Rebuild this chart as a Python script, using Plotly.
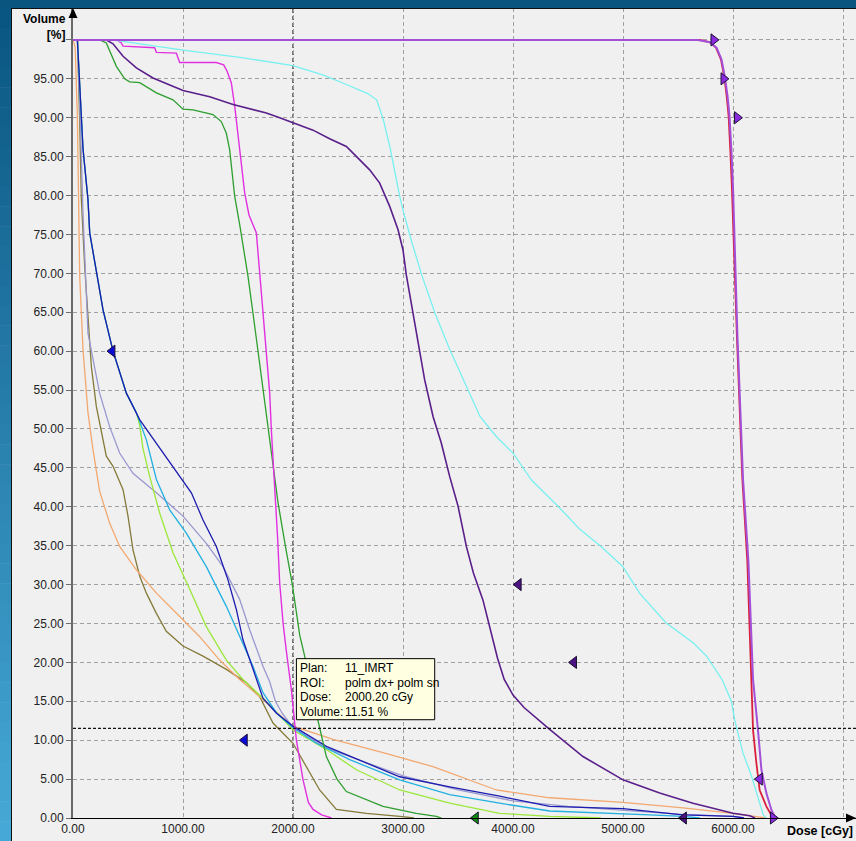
import plotly.graph_objects as go

# ---------------- data (dose in cGy, volume in %) ----------------
ptv_red_dose = [0, 5700, 5790, 5845, 5890, 5920, 5942, 5960, 5975, 5990, 6035, 6085, 6130, 6167, 6182, 6212, 6242, 6303, 6364]
ptv_red_vol = [100, 100, 99.7, 99.0, 97.5, 95.3, 92.8, 90.2, 85.9, 81.0, 62.0, 43.5, 33.0, 17.8, 11.3, 7.1, 3.6, 1.5, 0]

ptv_vio_dose = [0, 5680, 5790, 5850, 5895, 5925, 5950, 5968, 5985, 6000, 6040, 6091, 6140, 6182, 6227, 6258, 6303, 6350, 6385]
ptv_vio_vol = [100, 100, 99.7, 99.0, 97.5, 95.3, 92.8, 90.2, 85.9, 81.0, 62.0, 43.5, 33.0, 17.8, 11.3, 6.2, 3.2, 1.0, 0]

aqua_dose = [0, 360, 1000, 1500, 2000, 2270, 2480, 2680, 2760, 2820, 2880, 2925, 2970, 3015, 3080, 3170, 3290, 3425, 3590, 3700, 3850,
             4000, 4170, 4400, 4600, 4800, 5000, 5150, 5390, 5640, 5760, 5900, 5985, 6015, 6045, 6090, 6170, 6230, 6275, 6300]
aqua_vol = [100, 100, 98.7, 97.8, 96.7, 95.5, 94.3, 93.1, 92.3, 89.8, 86.3, 82.9, 79.9, 77.3, 74.0, 69.8, 64.9, 60.2, 55.1, 51.6, 49.0,
            46.9, 43.4, 40.2, 37.2, 34.9, 32.3, 28.9, 25.1, 22.5, 20.8, 17.8, 15.0, 12.6, 10.9, 8.4, 5.3, 2.4, 0.4, 0]

dpurple_dose = [0, 300, 364, 455, 576, 727, 1000, 1243, 1455, 1758, 1879, 2000, 2182, 2333, 2485, 2591, 2697, 2788, 2879, 2955, 3000,
                3030, 3091, 3152, 3197, 3273, 3348, 3424, 3500, 3576, 3640, 3727, 3800, 3860, 3920, 4000, 4100, 4200, 4333, 4636,
                5000, 5333, 5636, 6000, 6152, 6200]
dpurple_vol = [100, 100, 99.5, 97.9, 96.4, 95.1, 93.5, 92.7, 91.7, 90.6, 90.0, 89.4, 88.4, 87.3, 86.3, 84.8, 83.3, 81.6, 78.6, 75.6, 73.0,
               69.8, 64.9, 60.2, 56.3, 51.6, 48.2, 43.9, 40.1, 34.9, 31.5, 28.0, 24.0, 20.5, 17.8, 15.8, 14.2, 13.0, 11.4, 7.9,
               4.9, 3.2, 1.9, 0.6, 0.3, 0]

magenta_dose = [0, 400, 439, 455, 742, 758, 939, 970, 1303, 1370, 1400, 1439, 1470, 1515, 1561, 1600, 1667, 1697, 1727, 1758, 1788,
                1803, 1824, 1843, 1860, 1879, 1910, 1939, 1985, 2030, 2091, 2140, 2182, 2260, 2333, 2350]
magenta_vol = [100, 100, 99.6, 99.2, 99.0, 98.4, 98.3, 97.1, 97.1, 96.8, 96.0, 94.5, 91.5, 85.9, 80.3, 77.5, 75.2, 70.1, 65.3, 59.8, 54.6,
               49.9, 45.2, 40.9, 36.0, 30.2, 25.0, 21.5, 16.5, 10.1, 4.9, 2.0, 1.1, 0.4, 0.1, 0]

green_dose = [0, 243, 303, 394, 470, 515, 606, 758, 909, 1000, 1091, 1273, 1348, 1394, 1424, 1470, 1515, 1591, 1636, 1682, 1727, 1773,
              1818, 1864, 1930, 1994, 2061, 2106, 2170, 2227, 2303, 2400, 2485, 2818, 3121, 3303, 3350]
green_vol = [100, 100, 99.6, 96.6, 95.0, 94.6, 94.5, 93.2, 92.3, 91.1, 91.0, 90.4, 89.5, 88.0, 85.9, 79.9, 76.3, 69.6, 64.9, 60.0, 55.1, 49.9,
             45.2, 40.5, 35.0, 30.0, 23.5, 20.8, 16.0, 12.6, 7.9, 5.0, 3.4, 1.5, 0.6, 0.2, 0]

blue_dose = [0, 40, 91, 136, 152, 212, 273, 364, 485, 606, 758, 1000, 1076, 1182, 1303, 1409, 1485, 1545, 1636, 1727, 1848, 2000,
             2303, 2667, 2970, 3424, 3879, 4333, 5000, 5545, 6000, 6100]
blue_vol = [100, 100, 86.0, 79.5, 75.2, 70.1, 65.3, 60.0, 54.6, 51.2, 48.2, 43.3, 41.8, 38.3, 34.9, 30.6, 26.8, 22.9, 19.1, 15.4, 13.5, 11.8,
            9.2, 7.1, 5.3, 4.0, 2.8, 1.5, 1.2, 0.4, 0.2, 0]

skyblue_dose = [0, 40, 91, 136, 152, 212, 273, 364, 485, 576, 667, 758, 879, 1030, 1212, 1394, 1515, 1636, 1727, 1850, 2000, 2212,
                2515, 2970, 3424, 3879, 4333, 5000, 5242, 5545, 5700]
skyblue_vol = [100, 100, 86.0, 79.5, 75.2, 70.1, 65.3, 60.0, 54.6, 52.1, 48.6, 43.5, 39.6, 36.6, 32.3, 27.2, 23.3, 19.5, 16.1, 13.5, 11.6, 9.6,
               7.5, 4.9, 3.0, 1.9, 0.9, 0.6, 0.4, 0.2, 0]

lgreen_dose = [0, 40, 91, 136, 152, 212, 273, 364, 485, 576, 606, 636, 667, 697, 788, 909, 1061, 1212, 1394, 1545, 1727, 2000, 2303,
               2576, 2970, 3424, 3879, 4333, 4800]
lgreen_vol = [100, 100, 86.0, 79.5, 75.2, 70.1, 65.3, 60.0, 54.6, 52.1, 50.5, 47.5, 45.5, 43.9, 39.2, 34.1, 29.4, 24.6, 20.3, 17.8, 15.4, 11.3, 8.8,
              6.2, 3.6, 1.9, 0.6, 0.2, 0]

lavender_dose = [0, 40, 70, 90, 136, 182, 242, 333, 424, 545, 758, 1000, 1212, 1364, 1515, 1606, 1727, 1788, 1840, 1900, 2000, 2300,
                 2700, 3000, 3500, 4000, 4500, 5000, 5500, 6000, 6100]
lavender_vol = [100, 100, 88.0, 78.0, 62.3, 58.9, 54.6, 50.3, 46.9, 44.3, 41.8, 38.8, 35.3, 32.3, 28.1, 24.2, 19.5, 17.5, 15.0, 13.5, 11.6, 9.0,
                7.0, 5.4, 3.6, 2.2, 1.5, 1.0, 0.5, 0.2, 0]

orange_dose = [0, 20, 40, 48, 61, 91, 136, 182, 242, 333, 424, 576, 758, 970, 1152, 1333, 1515, 1697, 1850, 2000, 2364, 2818, 3273,
               3849, 4333, 5000, 5545, 6000, 6212, 6300]
orange_vol = [100, 99, 90, 80, 69.6, 60.2, 52.1, 47.3, 42.0, 37.9, 34.9, 31.9, 28.9, 25.9, 23.3, 20.3, 17.8, 15.6, 13.6, 11.8, 10.1, 8.4, 6.6,
              3.6, 2.6, 2.0, 1.3, 0.6, 0.2, 0]

olive_dose = [0, 40, 60, 76, 106, 136, 167, 212, 258, 303, 364, 455, 500, 545, 606, 667, 758, 848, 1000, 1182, 1394, 1576, 1697, 1818,
              2000, 2121, 2242, 2394, 2667, 2970, 3100]
olive_vol = [100, 100, 90, 79.5, 70.9, 64.5, 58.0, 52.9, 49.5, 46.5, 45.2, 42.2, 38.8, 34.5, 31.1, 28.9, 26.3, 24.0, 22.1, 20.8, 19.1, 17.4,
             15.6, 12.2, 9.6, 6.6, 3.6, 1.1, 0.6, 0.2, 0]

# constraint markers
blue_mk_dose = [357, 1560]
blue_mk_vol = [60, 10]
dpurple_mk_dose = [4050, 4553, 5552]
dpurple_mk_vol = [30, 20, 0]
green_mk_dose = [3660]
green_mk_vol = [0]
vio_right_dose = [5824, 5915, 6038, 6364]
vio_right_vol = [100, 95, 90, 0]
vio_left_dose = [6242]
vio_left_vol = [5]

# cursor readout
cursor_plan = "11_IMRT"
cursor_roi = "polm dx+ polm sn"
cursor_dose = 2000.20
cursor_vol = 11.51

x_ticks = [0, 1000, 2000, 3000, 4000, 5000, 6000, 7000]
x_ticktext = ["0.00", "1000.00", "2000.00", "3000.00", "4000.00", "5000.00", "6000.00", ""]
y_ticks = list(range(0, 101, 5))
y_ticktext = ["%.2f" % v for v in y_ticks[:-1]] + [""]

# ---------------- figure ----------------
W, H = 856, 841
ML, MR, MT, MB = 73, 0, 8, 23
XMAX = 7118
YMAX = 104.1
PW, PH = W - ML - MR, H - MT - MB


def pxx(p):
    return (p - ML) / PW


def pxy(p):
    return (H - MB - p) / PH


fig = go.Figure()

series = [
    (olive_dose, olive_vol, "#857a3a", 1.3),
    (orange_dose, orange_vol, "#f2a870", 1.3),
    (lavender_dose, lavender_vol, "#9a98d0", 1.3),
    (lgreen_dose, lgreen_vol, "#9be83a", 1.3),
    (skyblue_dose, skyblue_vol, "#22b0e0", 1.3),
    (blue_dose, blue_vol, "#1c1cb0", 1.3),
    (green_dose, green_vol, "#2e9e2e", 1.3),
    (magenta_dose, magenta_vol, "#e030e0", 1.4),
    (dpurple_dose, dpurple_vol, "#5a1f8a", 1.6),
    (aqua_dose, aqua_vol, "#78f0f0", 1.3),
    (ptv_red_dose, ptv_red_vol, "#d8203c", 1.8),
    (ptv_vio_dose, ptv_vio_vol, "#a44fd8", 2.0),
]
for xs, ys, col, lw in series:
    fig.add_trace(go.Scatter(x=xs, y=ys, mode="lines", line=dict(color=col, width=lw),
                             hoverinfo="skip", showlegend=False))

markers = [
    (blue_mk_dose, blue_mk_vol, "triangle-left", "#0a0ad8"),
    (dpurple_mk_dose, dpurple_mk_vol, "triangle-left", "#4b1282"),
    (green_mk_dose, green_mk_vol, "triangle-left", "#0e8a0e"),
    (vio_right_dose, vio_right_vol, "triangle-right", "#8a2be2"),
    (vio_left_dose, vio_left_vol, "triangle-left", "#8a2be2"),
]
for xs, ys, sym, col in markers:
    fig.add_trace(go.Scatter(x=xs, y=ys, mode="markers", cliponaxis=False,
                             marker=dict(symbol=sym, size=10.5, color=col,
                                         line=dict(color="#1a1030", width=1)),
                             hoverinfo="skip", showlegend=False))

shapes = []
# blue frame: top strip and left gradient strip
shapes.append(dict(type="rect", xref="paper", yref="paper", x0=pxx(0), x1=pxx(W), y0=pxy(8), y1=pxy(0),
                   fillcolor="#0a5580", line=dict(width=0), layer="above"))
N = 42
c0 = (10, 86, 130)
c1 = (70, 168, 214)
for i in range(N):
    t = i / (N - 1)
    col = "rgb(%d,%d,%d)" % tuple(int(round(a + (b - a) * t)) for a, b in zip(c0, c1))
    y0p = 8 + (H - 8) * i / N
    y1p = 8 + (H - 8) * (i + 1) / N + 0.5
    shapes.append(dict(type="rect", xref="paper", yref="paper", x0=pxx(0), x1=pxx(11),
                       y0=pxy(y1p), y1=pxy(y0p), fillcolor=col, line=dict(width=0), layer="above"))
shapes.append(dict(type="line", xref="paper", yref="paper", x0=pxx(11), x1=pxx(W), y0=pxy(8.5), y1=pxy(8.5),
                   line=dict(color="#101010", width=1), layer="above"))
shapes.append(dict(type="line", xref="paper", yref="paper", x0=pxx(11.5), x1=pxx(11.5), y0=pxy(H), y1=pxy(8),
                   line=dict(color="#101010", width=1), layer="above"))

# cursor crosshair
shapes.append(dict(type="line", xref="x", yref="paper", x0=cursor_dose, x1=cursor_dose, y0=0, y1=1,
                   line=dict(color="#303030", width=1.3, dash="4px,3px"), layer="below"))
shapes.append(dict(type="line", xref="paper", yref="y", x0=0, x1=1, y0=cursor_vol, y1=cursor_vol,
                   line=dict(color="#101010", width=1.2, dash="3px,2px"), layer="above"))

# axis arrows
shapes.append(dict(type="path", xref="paper", yref="paper",
                   path="M %f %f L %f %f L %f %f Z" % (pxx(68.5), pxy(18), pxx(77.5), pxy(18), pxx(73), pxy(8)),
                   fillcolor="#000000", line=dict(width=0), layer="above"))
shapes.append(dict(type="path", xref="paper", yref="paper",
                   path="M %f %f L %f %f L %f %f Z" % (pxx(846), pxy(813.5), pxx(846), pxy(822.5), pxx(856), pxy(818)),
                   fillcolor="#000000", line=dict(width=0), layer="above"))

# tooltip box
bx0, bx1 = 2031, 3288
by0, by1 = 12.63, 20.48
shapes.append(dict(type="rect", xref="x", yref="y", x0=bx0, x1=bx1, y0=by0, y1=by1,
                   fillcolor="#ffffe1", line=dict(color="#000000", width=1), layer="above"))

annotations = []
rows = [("Plan:", cursor_plan), ("ROI:", cursor_roi), ("Dose:", "%.2f cGy" % cursor_dose),
        ("Volume:", "%.2f %%" % cursor_vol)]
row_y = [19.32, 17.39, 15.59, 13.66]
for (lab, val), yy in zip(rows, row_y):
    annotations.append(dict(x=2043, y=yy, xref="x", yref="y", text=lab, showarrow=False,
                            xanchor="left", yanchor="middle",
                            font=dict(family="Liberation Sans, Arial, sans-serif", size=12, color="#000000")))
    annotations.append(dict(x=2452, y=yy, xref="x", yref="y", text=val, showarrow=False,
                            xanchor="left", yanchor="middle",
                            font=dict(family="Liberation Sans, Arial, sans-serif", size=12, color="#000000")))

annotations.append(dict(x=pxx(68), y=pxy(10), xref="paper", yref="paper", text="<b>Volume</b><br><b>[%]</b>",
                        showarrow=False, xanchor="right", yanchor="top", align="right",
                        font=dict(family="Liberation Sans, Arial, sans-serif", size=12, color="#000000")))
annotations.append(dict(x=pxx(855), y=pxy(831), xref="paper", yref="paper", text="<b>Dose [cGy]</b>",
                        showarrow=False, xanchor="right", yanchor="middle",
                        font=dict(family="Liberation Sans, Arial, sans-serif", size=12.5, color="#000000")))

fig.update_layout(
    width=W, height=H,
    margin=dict(l=ML, r=MR, t=MT, b=MB, pad=0, autoexpand=False),
    paper_bgcolor="#f0f0f0",
    plot_bgcolor="#f0f0f0",
    showlegend=False,
    shapes=shapes,
    annotations=annotations,
    font=dict(family="Liberation Sans, Arial, sans-serif", size=12, color="#222222"),
    xaxis=dict(range=[0, XMAX], tickmode="array", tickvals=x_ticks, ticktext=x_ticktext,
               showgrid=True, gridcolor="#a0a0a0", gridwidth=1, griddash="4px,3px",
               zeroline=False, showline=True, linecolor="#000000", linewidth=1, automargin=False,
               ticks="", tickfont=dict(size=12, color="#222222"), fixedrange=True),
    yaxis=dict(range=[0, YMAX], tickmode="array", tickvals=y_ticks, ticktext=y_ticktext,
               showgrid=True, gridcolor="#a0a0a0", gridwidth=1, griddash="4px,3px",
               zeroline=False, showline=True, linecolor="#6a6a6a", linewidth=2, automargin=False,
               ticks="outside", ticklen=5, tickcolor="#6a6a6a", tickwidth=1,
               tickfont=dict(size=12, color="#222222"), fixedrange=True),
)

fig.write_html("out.html", config={"displayModeBar": False},
               post_script="document.body.style.margin='0px';document.body.style.padding='0px';"
                           "document.body.style.background='#f0f0f0';")
